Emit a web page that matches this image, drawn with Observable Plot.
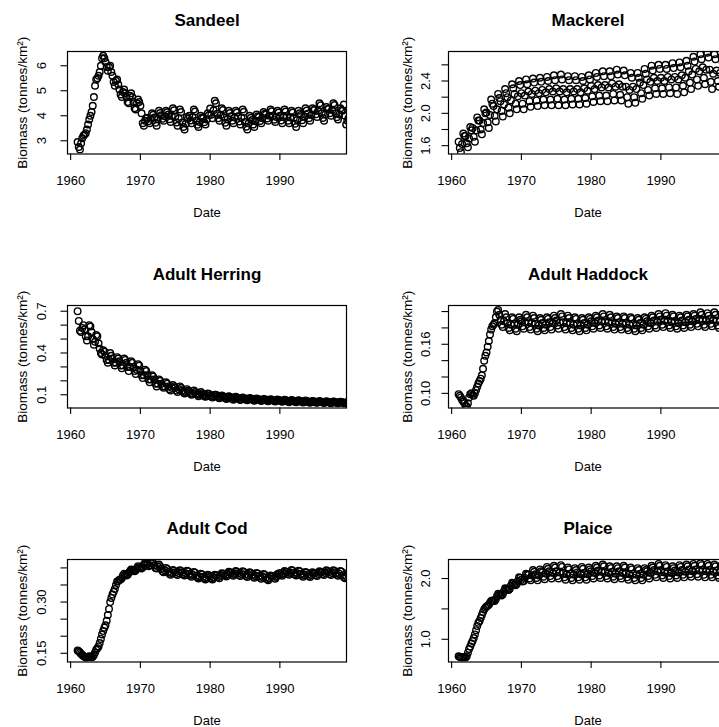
<!DOCTYPE html>
<html><head><meta charset="utf-8">
<script src="https://cdn.jsdelivr.net/npm/d3@7"></script>
<script src="https://cdn.jsdelivr.net/npm/@observablehq/plot@0.6"></script>
<style>
html,body{margin:0;padding:0;background:#fff;overflow:hidden;width:719px;height:727px}
#root{position:relative;width:719px;height:727px;overflow:hidden;background:#fff}
.panel{position:absolute;width:381px;height:254px}
.panel svg{display:block;overflow:visible;max-width:none !important;width:381px !important;height:254px !important}
</style></head><body><div id="root"></div>
<script>
// ---- data (bi-monthly values, starting Jan 1961) ----
const startYear = 1961;
const perYear = 6;
const xTicks = [1960, 1970, 1980, 1990];
const xTitle = "Date";
const yTitle = "Biomass (tonnes/km²)";
const titles = ["Sandeel", "Mackerel", "Adult Herring", "Adult Haddock", "Adult Cod", "Plaice"];

const sandeel = [
2.95,2.75,2.65,2.9,3.1,3.2, 3.25,3.3,3.45,3.65,3.85,4.0, 4.15,4.4,4.75,5.2,5.45,5.5, 5.6,5.75,6.0,6.3,6.4,6.3,
6.15,5.95,5.8,5.95,6.0,5.75, 5.6,5.35,5.2,5.4,5.45,5.25, 5.05,4.85,4.75,4.95,5.05,4.9, 4.75,4.55,4.5,4.8,4.9,4.75,
4.55,4.3,4.25,4.5,4.65,4.55, 4.4,4.1,3.7,3.6,3.8,3.9, 3.92,3.78,3.70,3.88,4.10,4.04, 3.93,3.72,3.60,3.87,4.20,4.11,
4.02,3.88,3.80,3.98,4.20,4.14, 4.05,3.86,3.75,4.00,4.30,4.22, 3.96,3.73,3.60,3.89,4.25,4.15, 3.73,3.55,3.45,3.68,3.95,3.88,
4.00,3.81,3.70,3.95,4.25,4.17, 3.80,3.64,3.55,3.75,4.00,3.93, 3.90,3.74,3.65,3.85,4.10,4.03, 4.29,4.04,3.90,4.22,4.60,4.50,
4.08,3.90,3.80,4.03,4.30,4.23, 3.93,3.72,3.60,3.87,4.20,4.11, 3.98,3.80,3.70,3.93,4.20,4.13, 3.98,3.77,3.65,3.92,4.25,4.16,
3.75,3.56,3.45,3.70,4.00,3.92, 3.83,3.65,3.55,3.78,4.05,3.98, 3.95,3.79,3.70,3.90,4.15,4.08, 4.05,3.89,3.80,4.00,4.25,4.18,
4.00,3.84,3.75,3.95,4.20,4.13, 4.00,3.81,3.70,3.95,4.25,4.17, 3.98,3.80,3.70,3.93,4.20,4.13, 3.91,3.68,3.55,3.84,4.20,4.10,
4.03,3.82,3.70,3.97,4.30,4.21, 4.08,3.90,3.80,4.03,4.30,4.23, 4.25,4.06,3.95,4.20,4.50,4.42, 4.10,3.91,3.80,4.05,4.35,4.27,
4.28,4.10,4.00,4.23,4.50,4.43, 4.10,3.94,3.85,4.05,4.30,4.23, 4.2,4.45,4.0,3.65,3.8,3.9
];

const mackerel = [
1.65,1.57,1.52,1.62,1.75,1.72, 1.72,1.63,1.58,1.69,1.83,1.79, 1.82,1.71,1.65,1.79,1.95,1.91, 1.91,1.80,1.74,1.88,2.05,2.00,
2.01,1.89,1.82,1.98,2.17,2.12, 2.09,1.97,1.90,2.05,2.24,2.19, 2.15,2.03,1.96,2.11,2.30,2.25, 2.20,2.07,2.00,2.16,2.36,2.31,
2.24,2.12,2.05,2.21,2.40,2.35, 2.25,2.12,2.05,2.22,2.42,2.36, 2.27,2.15,2.08,2.24,2.43,2.38, 2.28,2.16,2.09,2.25,2.44,2.39,
2.29,2.17,2.10,2.26,2.45,2.40, 2.30,2.17,2.10,2.27,2.47,2.41, 2.31,2.18,2.10,2.27,2.48,2.42, 2.30,2.17,2.10,2.26,2.46,2.41,
2.30,2.18,2.11,2.27,2.46,2.41, 2.30,2.18,2.11,2.26,2.45,2.40, 2.31,2.19,2.12,2.28,2.47,2.42, 2.34,2.21,2.14,2.30,2.50,2.45,
2.35,2.22,2.15,2.32,2.52,2.46, 2.35,2.22,2.15,2.32,2.52,2.46, 2.37,2.24,2.16,2.33,2.54,2.48, 2.36,2.23,2.16,2.33,2.53,2.47,
2.33,2.20,2.12,2.29,2.50,2.44, 2.33,2.20,2.13,2.30,2.50,2.44, 2.38,2.25,2.18,2.35,2.55,2.49, 2.42,2.29,2.22,2.39,2.59,2.53,
2.44,2.31,2.24,2.40,2.60,2.55, 2.44,2.31,2.24,2.40,2.60,2.55, 2.45,2.32,2.25,2.42,2.62,2.56, 2.45,2.32,2.24,2.42,2.63,2.57,
2.47,2.34,2.26,2.44,2.65,2.59, 2.52,2.38,2.30,2.48,2.70,2.64, 2.55,2.42,2.34,2.52,2.73,2.67, 2.57,2.44,2.36,2.54,2.75,2.69,
2.54,2.39,2.30,2.49,2.73,2.67, 2.53,2.40,2.33,2.50,2.70,2.64, 2.54,2.41,2.34,2.50,2.70,2.65
];

const adultHerring = [
0.70,0.63,0.56,0.55,0.58,0.60, 0.57,0.52,0.49,0.52,0.60,0.59, 0.55,0.50,0.46,0.48,0.53,0.52, 0.47,0.43,0.40,0.39,0.42,0.41,
0.38,0.35,0.33,0.35,0.40,0.38, 0.36,0.33,0.31,0.33,0.37,0.36, 0.34,0.31,0.29,0.31,0.36,0.35, 0.33,0.30,0.27,0.30,0.34,0.33,
0.30,0.27,0.25,0.28,0.32,0.31, 0.27,0.24,0.22,0.24,0.28,0.27, 0.24,0.21,0.19,0.21,0.24,0.23, 0.21,0.18,0.16,0.18,0.21,0.20,
0.18,0.16,0.15,0.16,0.19,0.18, 0.16,0.14,0.13,0.15,0.17,0.16, 0.15,0.13,0.12,0.14,0.16,0.15, 0.13,0.12,0.11,0.12,0.14,0.13,
0.12,0.11,0.10,0.11,0.13,0.12, 0.11,0.10,0.09,0.10,0.12,0.11, 0.10,0.09,0.085,0.095,0.11,0.105, 0.095,0.085,0.08,0.09,0.10,0.10,
0.09,0.08,0.075,0.085,0.095,0.09, 0.085,0.075,0.07,0.08,0.09,0.085, 0.08,0.07,0.065,0.075,0.085,0.08, 0.075,0.068,0.062,0.07,0.08,0.077,
0.072,0.065,0.06,0.067,0.077,0.073, 0.068,0.062,0.057,0.064,0.073,0.07, 0.066,0.06,0.055,0.062,0.07,0.067, 0.063,0.057,0.053,0.06,0.068,0.065,
0.061,0.055,0.051,0.058,0.066,0.063, 0.059,0.053,0.049,0.056,0.064,0.061, 0.057,0.051,0.047,0.054,0.062,0.059, 0.055,0.05,0.046,0.052,0.06,0.057,
0.053,0.048,0.044,0.05,0.058,0.055, 0.051,0.046,0.043,0.049,0.056,0.053, 0.05,0.045,0.042,0.048,0.055,0.052, 0.048,0.044,0.041,0.046,0.053,0.05,
0.047,0.042,0.04,0.045,0.052,0.049, 0.046,0.041,0.039,0.044,0.05,0.048, 0.045,0.04,0.038,0.043,0.049,0.047
];

const adultHaddock = [
0.099,0.097,0.095,0.092,0.09,0.088, 0.085,0.084,0.088,0.095,0.099,0.1, 0.098,0.097,0.1,0.104,0.108,0.112, 0.115,0.118,0.122,0.13,0.14,0.146,
0.15,0.157,0.164,0.172,0.178,0.182, 0.184,0.186,0.193,0.2,0.202,0.196, 0.19,0.184,0.181,0.188,0.197,0.193, 0.186,0.180,0.177,0.184,0.193,0.191,
0.185,0.179,0.176,0.184,0.193,0.190, 0.188,0.182,0.179,0.187,0.196,0.193, 0.187,0.181,0.178,0.186,0.195,0.192, 0.185,0.179,0.176,0.183,0.192,0.190,
0.186,0.180,0.177,0.184,0.193,0.191, 0.187,0.181,0.178,0.186,0.195,0.192, 0.189,0.183,0.179,0.187,0.197,0.194, 0.187,0.181,0.178,0.186,0.195,0.192,
0.186,0.180,0.177,0.184,0.193,0.191, 0.185,0.179,0.176,0.183,0.192,0.190, 0.186,0.180,0.177,0.184,0.193,0.191, 0.188,0.182,0.179,0.186,0.195,0.193,
0.189,0.183,0.180,0.188,0.197,0.194, 0.188,0.182,0.179,0.187,0.196,0.193, 0.187,0.181,0.178,0.185,0.194,0.192, 0.187,0.181,0.178,0.185,0.194,0.192,
0.186,0.180,0.177,0.184,0.193,0.191, 0.185,0.179,0.176,0.183,0.192,0.190, 0.186,0.180,0.177,0.184,0.193,0.191, 0.188,0.182,0.179,0.186,0.195,0.193,
0.189,0.183,0.180,0.188,0.197,0.194, 0.190,0.184,0.181,0.189,0.198,0.195, 0.189,0.183,0.180,0.187,0.196,0.194, 0.188,0.182,0.179,0.186,0.195,0.193,
0.189,0.183,0.180,0.187,0.196,0.194, 0.190,0.184,0.181,0.188,0.197,0.195, 0.191,0.185,0.182,0.190,0.199,0.196, 0.190,0.184,0.181,0.189,0.198,0.195,
0.191,0.185,0.182,0.190,0.199,0.196, 0.189,0.183,0.180,0.188,0.197,0.194, 0.188,0.182,0.179,0.186,0.195,0.193
];

const adultCod = [
0.158,0.156,0.152,0.148,0.145,0.142, 0.14,0.138,0.137,0.139,0.141,0.14, 0.138,0.14,0.145,0.152,0.16,0.165, 0.17,0.18,0.192,0.205,0.215,0.225,
0.232,0.245,0.262,0.28,0.3,0.312, 0.322,0.33,0.338,0.35,0.36,0.362, 0.365,0.366,0.37,0.378,0.383,0.38, 0.378,0.38,0.385,0.39,0.395,0.393,
0.392,0.39,0.393,0.4,0.405,0.402, 0.4,0.398,0.402,0.41,0.415,0.412, 0.41,0.405,0.408,0.414,0.419,0.415, 0.408,0.4,0.398,0.404,0.41,0.405,
0.397,0.39,0.387,0.393,0.4,0.397, 0.388,0.383,0.380,0.386,0.394,0.392, 0.387,0.382,0.379,0.385,0.393,0.391, 0.386,0.381,0.378,0.384,0.392,0.390,
0.382,0.377,0.374,0.380,0.388,0.386, 0.377,0.372,0.369,0.375,0.383,0.381, 0.374,0.369,0.366,0.372,0.380,0.378, 0.374,0.369,0.366,0.372,0.380,0.378,
0.378,0.373,0.370,0.376,0.384,0.382, 0.383,0.378,0.375,0.381,0.389,0.387, 0.385,0.380,0.377,0.383,0.391,0.389, 0.384,0.379,0.376,0.382,0.390,0.388,
0.381,0.376,0.373,0.379,0.387,0.385, 0.379,0.374,0.371,0.377,0.385,0.383, 0.376,0.371,0.368,0.374,0.382,0.380, 0.372,0.367,0.364,0.370,0.378,0.376,
0.376,0.371,0.368,0.374,0.382,0.380, 0.385,0.380,0.377,0.383,0.391,0.389, 0.388,0.383,0.380,0.386,0.394,0.392, 0.386,0.381,0.378,0.384,0.392,0.390,
0.382,0.377,0.374,0.380,0.388,0.386, 0.381,0.376,0.373,0.379,0.387,0.385, 0.384,0.379,0.376,0.382,0.390,0.388, 0.387,0.382,0.379,0.385,0.393,0.391,
0.387,0.382,0.379,0.385,0.393,0.391, 0.385,0.380,0.377,0.383,0.391,0.389, 0.378,0.373,0.370,0.376,0.384,0.382
];

const plaice = [
0.72,0.71,0.70,0.70,0.71,0.70, 0.70,0.72,0.78,0.84,0.88,0.93, 0.97,1.02,1.08,1.15,1.22,1.27, 1.30,1.35,1.40,1.45,1.49,1.52,
1.54,1.55,1.57,1.60,1.63,1.64, 1.64,1.63,1.66,1.71,1.75,1.74, 1.73,1.72,1.74,1.79,1.84,1.83, 1.82,1.81,1.83,1.88,1.93,1.92,
1.90,1.89,1.91,1.96,2.02,2.01, 1.98,1.95,1.96,2.01,2.08,2.07, 2.06,2.00,1.97,2.05,2.14,2.11, 2.07,2.01,1.97,2.05,2.15,2.12,
2.10,2.03,1.99,2.08,2.19,2.16, 2.12,2.04,2.00,2.09,2.21,2.18, 2.12,2.04,2.00,2.10,2.22,2.19, 2.09,2.02,1.98,2.07,2.18,2.15,
2.08,2.01,1.97,2.06,2.17,2.14, 2.10,2.02,1.98,2.07,2.19,2.16, 2.09,2.02,1.98,2.07,2.18,2.15, 2.12,2.04,2.00,2.09,2.21,2.18,
2.13,2.05,2.01,2.11,2.23,2.20, 2.11,2.04,2.00,2.09,2.20,2.17, 2.11,2.03,1.99,2.08,2.20,2.17, 2.12,2.04,2.00,2.09,2.21,2.18,
2.09,2.02,1.98,2.07,2.18,2.15, 2.08,2.01,1.97,2.06,2.17,2.14, 2.08,2.01,1.97,2.06,2.17,2.14, 2.12,2.04,2.00,2.09,2.21,2.18,
2.14,2.06,2.02,2.12,2.24,2.21, 2.13,2.05,2.01,2.10,2.22,2.19, 2.11,2.04,2.00,2.09,2.20,2.17, 2.13,2.05,2.01,2.10,2.22,2.19,
2.14,2.06,2.02,2.11,2.23,2.20, 2.15,2.07,2.03,2.12,2.24,2.21, 2.15,2.07,2.03,2.13,2.25,2.22, 2.14,2.06,2.02,2.12,2.24,2.21,
2.14,2.06,2.02,2.11,2.23,2.20, 2.13,2.05,2.01,2.10,2.22,2.19, 2.11,2.04,2.00,2.09,2.20,2.17
];

// y-axis ticks and their printed labels (R drops overlapping labels)
const sandeelTicks = [3, 4, 5, 6];
const sandeelLabels = ["3", "4", "5", "6"];
const mackerelTicks = [1.6, 1.8, 2.0, 2.2, 2.4, 2.6];
const mackerelLabels = ["1.6", "", "2.0", "", "2.4", ""];
const herringTicks = [0.1, 0.2, 0.3, 0.4, 0.5, 0.6, 0.7];
const herringLabels = ["0.1", "", "", "0.4", "", "", "0.7"];
const haddockTicks = [0.10, 0.12, 0.14, 0.16, 0.18, 0.20];
const haddockLabels = ["0.10", "", "", "0.16", "", ""];
const codTicks = [0.15, 0.20, 0.25, 0.30, 0.35, 0.40];
const codLabels = ["0.15", "", "", "0.30", "", ""];
const plaiceTicks = [1.0, 1.5, 2.0];
const plaiceLabels = ["1.0", "", "2.0"];

// ---- layout ----
const series = [sandeel, mackerel, adultHerring, adultHaddock, adultCod, plaice];
const ticks = [sandeelTicks, mackerelTicks, herringTicks, haddockTicks, codTicks, plaiceTicks];
const labels = [sandeelLabels, mackerelLabels, herringLabels, haddockLabels, codLabels, plaiceLabels];
const yDomains = [[2.47, 6.57], [1.497, 2.765], [0.005, 0.741], [0.0821, 0.2074], [0.1245, 0.4246], [0.626, 2.313]];
const xDomain = [1959.55, 1999.55];
const colLeft = [0, 381.3];
const rowTop = [0, 254, 508.3];
const font = "'Liberation Sans', Arial, Helvetica, sans-serif";

const root = document.getElementById("root");
series.forEach((vals, i) => {
  const col = i % 2, row = Math.floor(i / 2);
  const data = vals.map((v, k) => ({date: startYear + k / perYear, biomass: v}));
  const tk = ticks[i], lb = labels[i];
  const fmt = d => { const j = tk.findIndex(t => Math.abs(t - d) < 1e-9); return j >= 0 ? lb[j] : ""; };
  const yTickPad = col === 0 ? 15 : 12.5;
  const yTitleDx = col === 0 ? -41 : -37;
  const chart = Plot.plot({
    width: 381, height: 254,
    marginLeft: 67, marginTop: 51, marginRight: 35, marginBottom: 100.5,
    style: {fontFamily: font, fontSize: "13px", color: "black", background: "transparent", overflow: "visible", maxWidth: "none"},
    x: {domain: xDomain},
    y: {domain: yDomains[i]},
    marks: [
      Plot.dot(data, {x: "date", y: "biomass", r: 3.3, stroke: "black", strokeWidth: 1.4, fill: "none", clip: true}),
      Plot.frame({stroke: "black", strokeWidth: 1.2}),
      Plot.axisX({ticks: xTicks, tickFormat: d => String(d), tickSize: 6.5, tickPadding: 15.3, fontSize: 13, label: null, strokeWidth: 1.1}),
      Plot.axisY({ticks: tk, tickFormat: fmt, tickSize: 6.5, tickPadding: yTickPad, tickRotate: -90, fontSize: 13, label: null, strokeWidth: 1.1}),
      Plot.text([xTitle], {text: d => d, frameAnchor: "bottom", dy: 62.5, lineAnchor: "bottom", fontSize: 13}),
      Plot.text([yTitle], {text: d => d, frameAnchor: "left", dx: yTitleDx, rotate: -90, textAnchor: "middle", lineAnchor: "bottom", fontSize: 13.6}),
      Plot.text([titles[i]], {text: d => d, frameAnchor: "top", dy: -26, lineAnchor: "bottom", fontSize: 17, fontWeight: "bold"})
    ]
  });
  const div = document.createElement("div");
  div.className = "panel";
  div.style.left = colLeft[col] + "px";
  div.style.top = rowTop[row] + "px";
  div.appendChild(chart);
  root.appendChild(div);
});
</script>
</body></html>
